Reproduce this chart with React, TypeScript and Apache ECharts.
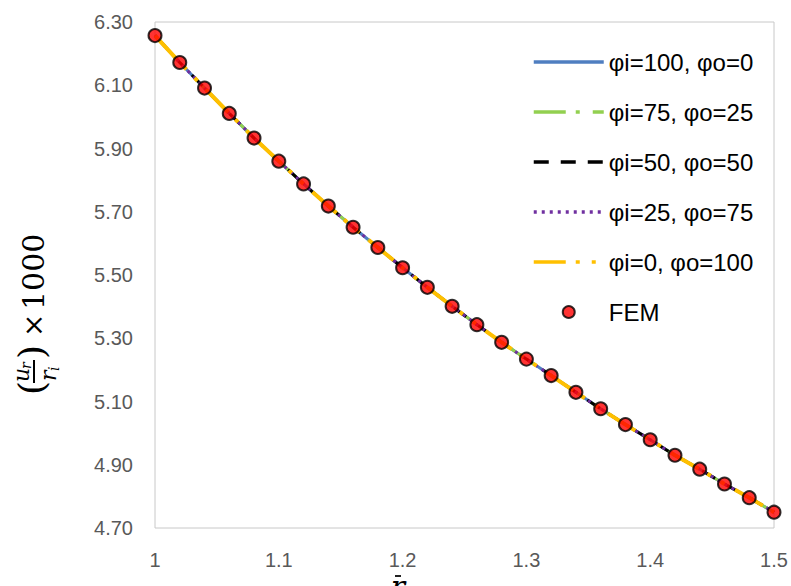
import React, { useEffect, useRef } from 'react';
import * as echarts from 'echarts';

// r-bar positions (x axis)
const rValues = [
  1.0, 1.02, 1.04, 1.06, 1.08, 1.1, 1.12, 1.14, 1.16, 1.18, 1.2, 1.22, 1.24,
  1.26, 1.28, 1.3, 1.32, 1.34, 1.36, 1.38, 1.4, 1.42, 1.44, 1.46, 1.48, 1.5,
];

// (u_r / r_i) x 1000 (all five overlap)
const analyticValues = [
  6.257, 6.172, 6.091, 6.011, 5.933, 5.86, 5.788, 5.718, 5.651, 5.587, 5.523,
  5.461, 5.401, 5.343, 5.287, 5.234, 5.182, 5.129, 5.077, 5.027, 4.979, 4.93,
  4.886, 4.839, 4.796, 4.75,
];

// FEM points
const femValues = [
  6.257, 6.172, 6.091, 6.011, 5.933, 5.86, 5.788, 5.718, 5.651, 5.587, 5.523,
  5.461, 5.401, 5.343, 5.287, 5.234, 5.182, 5.129, 5.077, 5.027, 4.979, 4.93,
  4.886, 4.839, 4.796, 4.75,
];

const seriesNames = [
  'φi=100, φo=0',
  'φi=75, φo=25',
  'φi=50, φo=50',
  'φi=25, φo=75',
  'φi=0, φo=100',
];
const seriesColors = ['#4F7EC0', '#92D050', '#000000', '#7030A0', '#FFC000'];
const seriesDash: any[] = [
  'solid',
  [32, 10, 4, 13],
  [15, 12],
  [3, 5],
  [32, 10, 4, 12, 4, 12],
];
const seriesWidths = [3, 3, 3, 3, 4];

const yTicks = { min: 4.7, max: 6.3, interval: 0.2 };
const xTicks = { min: 1, max: 1.5, interval: 0.1 };

export default function App() {
  const ref = useRef<HTMLDivElement>(null);
  useEffect(() => {
    if (!ref.current) return;
    const chart = echarts.init(ref.current, undefined, { renderer: 'svg' });
    const pair = (ys: number[]) => rValues.map((x, i) => [x, ys[i]]);
    const lineSeries = seriesNames.map((name, i) => ({
      name,
      type: 'line',
      data: pair(analyticValues),
      symbol: 'none',
      showSymbol: false,
      lineStyle: { color: seriesColors[i], width: seriesWidths[i], type: seriesDash[i] },
      itemStyle: { color: seriesColors[i] },
      clip: false,
    }));
    const legendData: any[] = seriesNames.map((name, i) => ({
      name,
      itemStyle: { color: 'rgba(0,0,0,0)', borderColor: 'rgba(0,0,0,0)', borderWidth: 0, opacity: 0 },
      lineStyle: { color: seriesColors[i], width: 3.5, type: seriesDash[i], opacity: 1 },
    }));
    legendData.push({ name: 'FEM' });
    const serif = '"DejaVu Serif", serif';
    chart.setOption({
      animation: false,
      backgroundColor: '#ffffff',
      grid: {
        left: 155,
        right: 17,
        top: 22,
        bottom: 58,
        show: true,
        borderColor: '#c8c8c8',
        borderWidth: 1,
      },
      xAxis: {
        type: 'value',
        min: xTicks.min,
        max: xTicks.max,
        interval: xTicks.interval,
        axisLine: { show: false },
        axisTick: { show: false },
        splitLine: { show: false },
        axisLabel: {
          color: '#595959',
          fontSize: 20,
          fontFamily: '"Liberation Sans", Arial, sans-serif',
          margin: 22,
        },
      },
      yAxis: {
        type: 'value',
        min: yTicks.min,
        max: yTicks.max,
        interval: yTicks.interval,
        axisLine: { show: false },
        axisTick: { show: false },
        splitLine: { show: false },
        axisLabel: {
          color: '#595959',
          fontSize: 20,
          fontFamily: '"Liberation Sans", Arial, sans-serif',
          margin: 22,
          formatter: (v: number) => v.toFixed(2),
        },
      },
      legend: {
        orient: 'vertical',
        left: 527,
        top: 45,
        itemWidth: 70,
        itemHeight: 12,
        itemGap: 26,
        selectedMode: false,
        textStyle: {
          color: '#000',
          fontSize: 24,
          fontFamily: '"Liberation Sans", Arial, sans-serif',
        },
        data: legendData,
      },
      series: [
        ...lineSeries,
        {
          name: 'FEM',
          type: 'scatter',
          data: pair(femValues),
          symbol: 'circle',
          symbolSize: 13,
          itemStyle: { color: '#FF0000', borderColor: '#000000', borderWidth: 2 },
          clip: false,
          z: 5,
        },
      ],
      graphic: [
        {
          type: 'group',
          x: 33,
          y: 395,
          rotation: Math.PI / 2,
          children: [
            { type: 'text', x: 0, y: -2, style: { text: '(', font: `36px ${serif}`, fill: '#000', align: 'left', verticalAlign: 'middle' } },
            { type: 'text', x: 13, y: -12, style: { text: 'u', font: `italic 22px ${serif}`, fill: '#000', align: 'left', verticalAlign: 'middle' } },
            { type: 'text', x: 26, y: -7, style: { text: 'r', font: `italic 14px ${serif}`, fill: '#000', align: 'left', verticalAlign: 'middle' } },
            { type: 'line', shape: { x1: 12, y1: 1, x2: 35, y2: 1 }, style: { stroke: '#000', lineWidth: 2 } },
            { type: 'text', x: 14, y: 15, style: { text: 'r', font: `italic 22px ${serif}`, fill: '#000', align: 'left', verticalAlign: 'middle' } },
            { type: 'text', x: 24, y: 21, style: { text: 'i', font: `italic 14px ${serif}`, fill: '#000', align: 'left', verticalAlign: 'middle' } },
            { type: 'text', x: 36, y: -2, style: { text: ')', font: `36px ${serif}`, fill: '#000', align: 'left', verticalAlign: 'middle' } },
            { type: 'text', x: 58, y: 0, style: { text: '×', font: `28px ${serif}`, fill: '#000', align: 'left', verticalAlign: 'middle' } },
            { type: 'text', x: 85, y: 0, style: { text: '1000', font: `30px ${serif}`, fill: '#000', align: 'left', verticalAlign: 'middle' } },
          ],
        },
        {
          type: 'text',
          x: 398,
          y: 586,
          style: { text: 'r', font: `italic 30px ${serif}`, fill: '#000', align: 'center', verticalAlign: 'middle' },
        },
        {
          type: 'line',
          shape: { x1: 395, y1: 576, x2: 401, y2: 576 },
          style: { stroke: '#222', lineWidth: 2 },
        },
      ],
    });
    return () => chart.dispose();
  }, []);
  return (
    <div
      ref={ref}
      style={{ position: 'fixed', left: 0, top: 0, width: 791, height: 586 }}
    />
  );
}
